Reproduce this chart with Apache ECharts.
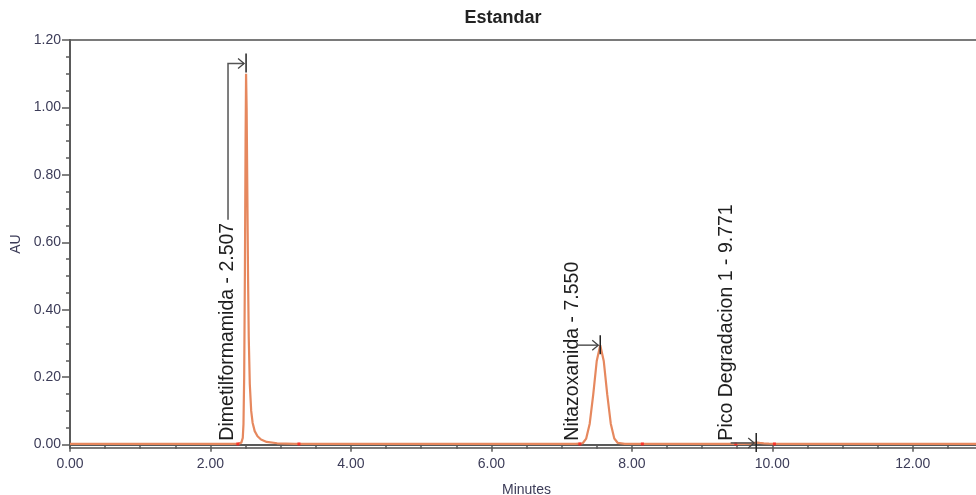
<!DOCTYPE html>
<html>
<head>
<meta charset="utf-8">
<script src="https://cdn.jsdelivr.net/npm/echarts@6/dist/echarts.min.js"></script>
<style>
html,body{margin:0;padding:0;background:#fff;}
#chart{width:976px;height:495px;}
</style>
</head>
<body>
<div id="chart"></div>
<script>
// ---- Data ----
const timeMin = [0.00, 2.30, 2.40, 2.44, 2.46, 2.47, 2.48, 2.49, 2.50, 2.507, 2.515, 2.525, 2.535, 2.545, 2.56, 2.58, 2.60, 2.63, 2.67, 2.72, 2.80, 2.95, 3.20,
  7.20, 7.30, 7.35, 7.40, 7.45, 7.50, 7.55, 7.60, 7.65, 7.70, 7.75, 7.80, 7.90,
  9.60, 9.70, 9.75, 9.78, 9.82, 9.88, 9.95, 10.10, 13.00];
const absAU = [0.002, 0.002, 0.003, 0.006, 0.02, 0.06, 0.20, 0.50, 0.90, 1.10, 1.00, 0.75, 0.50, 0.32, 0.18, 0.10, 0.065, 0.04, 0.025, 0.015, 0.008, 0.004, 0.002,
  0.002, 0.004, 0.018, 0.062, 0.148, 0.248, 0.295, 0.248, 0.148, 0.062, 0.018, 0.005, 0.002,
  0.002, 0.003, 0.005, 0.006, 0.005, 0.004, 0.003, 0.002, 0.002];
// integration start/end marks (minutes)
const markTimes = [2.39, 3.26, 7.26, 8.15, 9.48, 10.03];
const markAU = [0.002, 0.002, 0.002, 0.002, 0.002, 0.002];
// peak annotations
const peakNames = ['Dimetilformamida', 'Nitazoxanida', 'Pico Degradacion 1'];
const peakRT = [2.507, 7.550, 9.771];
const peakArrowAU = [1.13, 0.295, 0.005];
const peakLabelTime = [2.25, 7.15, 9.35];
// axis ticks
const yMajor = [0, 0.2, 0.4, 0.6, 0.8, 1.0, 1.2];
const yMinor = [0.05, 0.1, 0.15, 0.25, 0.3, 0.35, 0.45, 0.5, 0.55, 0.65, 0.7, 0.75, 0.85, 0.9, 0.95, 1.05, 1.1, 1.15];

const chart = echarts.init(document.getElementById('chart'), null, {renderer: 'canvas'});
const axisCol = '#5a5a5a';
const labelCol = '#3c3c58';
const FONT = 'Liberation Sans, Arial, sans-serif';

const option = {
  animation: false,
  backgroundColor: '#ffffff',
  grid: {left: 70, top: 40, width: 913, bottom: 47, show: true, borderColor: '#7a7a7a', borderWidth: 2,
    backgroundColor: 'transparent', containLabel: false, outerBoundsMode: 'none'},
  xAxis: {
    type: 'value', min: 0, max: 13, interval: 2,
    name: 'Minutes', nameLocation: 'middle', nameGap: 35,
    nameTextStyle: {color: labelCol, fontSize: 14, fontFamily: FONT},
    axisLine: {show: true, lineStyle: {color: axisCol, width: 2}},
    axisTick: {show: true, length: 7, lineStyle: {color: axisCol, width: 1.5}},
    minorTick: {show: true, splitNumber: 4, length: 4, lineStyle: {color: axisCol, width: 1.5}},
    splitLine: {show: false}, minorSplitLine: {show: false},
    axisLabel: {color: labelCol, fontSize: 14, fontFamily: FONT, margin: 9, showMaxLabel: false,
      formatter: v => v.toFixed(2)}
  },
  yAxis: [{
    type: 'value', min: -0.01, max: 1.2,
    name: 'AU', nameLocation: 'middle', nameGap: 41,
    nameTextStyle: {color: labelCol, fontSize: 14, fontFamily: FONT},
    axisLine: {show: true, lineStyle: {color: axisCol, width: 2}},
    axisTick: {show: true, length: 8, customValues: yMajor, lineStyle: {color: axisCol, width: 1.5}},
    axisLabel: {color: labelCol, fontSize: 14, fontFamily: FONT, margin: 9, customValues: yMajor,
      formatter: v => v.toFixed(2)},
    splitLine: {show: false}
  }, {
    type: 'value', min: -0.01, max: 1.2, position: 'left',
    axisLine: {show: false},
    axisTick: {show: true, length: 4, customValues: yMinor, lineStyle: {color: axisCol, width: 1.5}},
    axisLabel: {show: false, customValues: yMinor},
    splitLine: {show: false}
  }],
  series: [{
    type: 'line', name: 'Estandar', yAxisIndex: 0,
    data: timeMin.map((t, i) => [t, absAU[i]]),
    showSymbol: false, symbol: 'none', smooth: false,
    lineStyle: {color: '#e6885e', width: 2.2},
    z: 3
  }, {
    type: 'scatter', name: 'marks', yAxisIndex: 0,
    data: markTimes.map((t, i) => [t, markAU[i]]),
    symbol: 'rect', symbolSize: [3, 3],
    itemStyle: {color: '#ff2020'},
    z: 4
  }]
};
chart.setOption(option);

// ---- annotations built from peak data through the axes ----
const g = [];
g.push({type: 'text', x: 503, y: 18, style: {text: 'Estandar', font: 'bold 18px ' + FONT, fill: '#222', textAlign: 'center', textVerticalAlign: 'middle'}});
const LFONT = '19.5px ' + FONT;
const baseY = chart.convertToPixel({xAxisIndex: 0, yAxisIndex: 0}, [0, 0])[1];
peakNames.forEach((nm, i) => {
  const label = nm + ' - ' + peakRT[i].toFixed(3);
  const p = chart.convertToPixel({xAxisIndex: 0, yAxisIndex: 0}, [peakRT[i], peakArrowAU[i]]);
  const lx = chart.convertToPixel({xAxisIndex: 0, yAxisIndex: 0}, [peakLabelTime[i], 0])[0];
  const ty0 = baseY - 4;
  const tw = echarts.format.getTextRect ? echarts.format.getTextRect(label, LFONT).width : label.length * 9.5;
  const ttop = ty0 - tw;
  g.push({type: 'text', x: lx, y: ty0, rotation: Math.PI / 2,
    style: {text: label, font: LFONT, fill: '#1e1e1e', textAlign: 'left', textVerticalAlign: 'middle'}, z: 10});
  const px = p[0], py = p[1];
  let pts;
  if (py < ttop) {
    pts = [[lx, ttop - 3], [lx, py], [px - 2, py]];
  } else {
    pts = [[lx + 4, py], [px - 2, py]];
  }
  g.push({type: 'polyline', shape: {points: pts}, style: {stroke: '#555', lineWidth: 1.5, fill: null}, z: 10});
  g.push({type: 'polyline', shape: {points: [[px - 8, py - 5], [px - 2, py], [px - 8, py + 5]]}, style: {stroke: '#444', lineWidth: 1.3, fill: null}, z: 10});
  g.push({type: 'line', shape: {x1: px, y1: py - 10, x2: px, y2: py + 9}, style: {stroke: '#222', lineWidth: 1.5}, z: 10});
});
chart.setOption({graphic: g});
</script>
</body>
</html>
